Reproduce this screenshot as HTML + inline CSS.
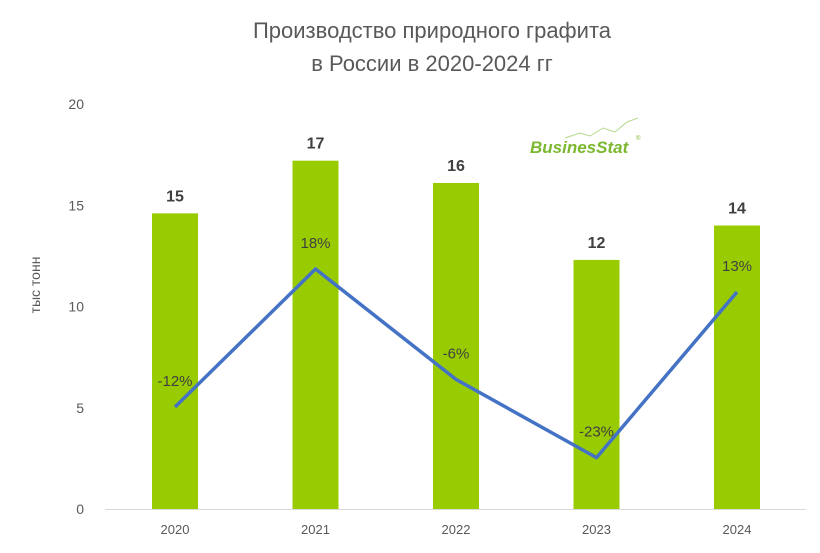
<!DOCTYPE html>
<html><head><meta charset="utf-8"><style>
body{margin:0;background:#fff;}
svg{display:block;font-family:"Liberation Sans",sans-serif;}
</style></head><body>
<svg id="c" width="820" height="553">
<text x="432" y="38" text-anchor="middle" font-size="22" fill="#595959">Производство природного графита</text>
<text x="432" y="71" text-anchor="middle" font-size="22" fill="#595959">в России в 2020-2024 гг</text>
<text transform="translate(40,285) rotate(-90)" text-anchor="middle" font-size="14" fill="#595959">тыс тонн</text>
<g>
<path d="M565 138 L580 133 L590 136 L603 128 L615 132 L627 122 L638 118" fill="none" stroke="#b5d98a" stroke-width="1"/>
<text x="530" y="153" font-size="17" font-weight="bold" font-style="italic" fill="#7cb82f" letter-spacing="0">BusinesStat</text>
<text x="636" y="140" font-size="6" fill="#7cb82f">®</text>
</g>
<g id="g"></g>
</svg>
<script>
const categories=["2020","2021","2022","2023","2024"];
const values=[14.6,17.2,16.1,12.3,14.0];
const valueLabels=["15","17","16","12","14"];
const growth=[-12,18,-6,-23,13];
const growthLabels=["-12%","18%","-6%","-23%","13%"];
const yTicks=[0,5,10,15,20];
const NS="http://www.w3.org/2000/svg";
const g=document.getElementById('g');
const y=v=>509-v*20.25;
const x=i=>175+i*140.5;
const yp=p=>407-(p+12)*4.6;
function mk(t,a,txt){const e=document.createElementNS(NS,t);for(const k in a)e.setAttribute(k,a[k]);if(txt!==undefined)e.textContent=txt;g.appendChild(e);return e;}
yTicks.forEach(t=>{
const e=mk('text',{x:84,y:y(t)+5,'text-anchor':'end','font-size':14,fill:'#595959'},t);


});
const ax=mk('line',{x1:105,x2:806,y1:509.5,y2:509.5,stroke:'#d9d9d9','stroke-width':1});


categories.forEach((c,i)=>{
const b=mk('rect',{x:x(i)-23,y:y(values[i]),width:46,height:509-y(values[i]),fill:'#99cc00'});


const l=mk('text',{x:x(i),y:y(values[i])-12,'text-anchor':'middle','font-size':16,'font-weight':'bold',fill:'#404040'},valueLabels[i]);


const t=mk('text',{x:x(i),y:534,'text-anchor':'middle','font-size':13,fill:'#595959'},c);


});
const pl=mk('polyline',{points:growth.map((p,i)=>x(i)+','+yp(p)).join(' '),fill:'none',stroke:'#4472c4','stroke-width':3.5,'stroke-linejoin':'round'});


growth.forEach((p,i)=>{
const t=mk('text',{x:x(i),y:yp(p)-21,'text-anchor':'middle','font-size':15,fill:'#404040'},growthLabels[i]);


});
</script>
</body></html>
